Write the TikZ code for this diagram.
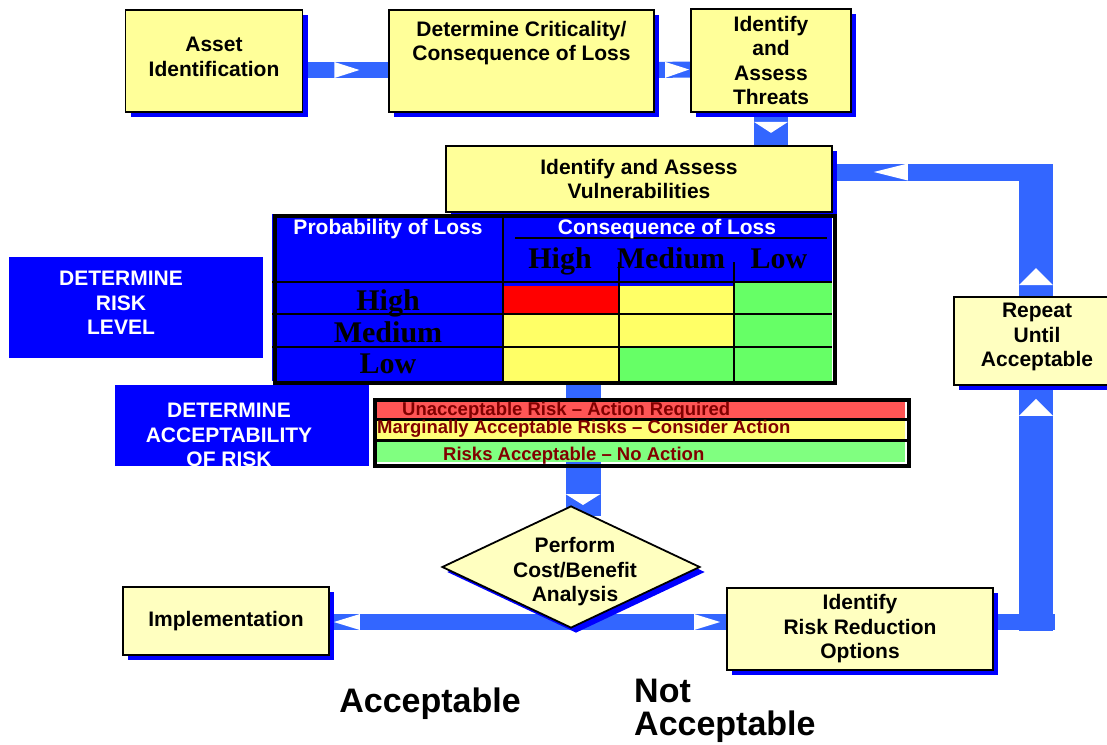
\documentclass[tikz,border=0pt]{standalone}
\usepackage{fontspec}
\setmainfont{Liberation Sans}
\newfontfamily\tabserif{Liberation Serif}
\usetikzlibrary{shapes.geometric, shadows, decorations.markings, backgrounds, calc}

\definecolor{bandblue}{HTML}{3366FF}
\definecolor{shadowblue}{HTML}{0000FF}
\definecolor{tableblue}{HTML}{0000FF}
\definecolor{boxyellow}{HTML}{FFFF99}
\definecolor{boxpale}{HTML}{FFFFC0}
\definecolor{cellred}{HTML}{FF0000}
\definecolor{cellyellow}{HTML}{FFFF66}
\definecolor{cellgreen}{HTML}{66FF66}
\definecolor{legred}{HTML}{FF5555}
\definecolor{legyellow}{HTML}{FFFF77}
\definecolor{leggreen}{HTML}{80FF80}
\definecolor{legtext}{HTML}{800000}

\newcommand{\boxfont}{\fontsize{21}{24.5}\selectfont\bfseries}
\newcommand{\gridfont}{\fontsize{30}{32}\selectfont\tabserif\bfseries}

\tikzset{
  box/.style={draw=black, line width=1.8pt, fill=boxyellow, inner sep=0pt, align=center,
    font=\boxfont, drop shadow={shadow xshift=5pt, shadow yshift=-5pt, fill=shadowblue, opacity=1}},
  palebox/.style={box, fill=boxpale},
  boxtext/.style={inner sep=0pt, align=center, font=\boxfont},
  bluebox/.style={fill=tableblue, inner sep=0pt, anchor=north west},
  bluetext/.style={boxtext, text=white},
  headtext/.style={inner sep=0pt, anchor=base, text=white, font=\fontsize{21}{24}\selectfont\bfseries},
  gridtext/.style={inner sep=0pt, anchor=base, font=\gridfont},
  legendtext/.style={inner sep=0pt, anchor=base west, text=legtext, font=\fontsize{18.5}{20}\selectfont\bfseries},
  bigtext/.style={inner sep=0pt, anchor=base west, font=\fontsize{34}{36}\selectfont\bfseries},
  band/.style={draw=bandblue, line width=#1},
  flow/.style n args={3}{band=#2, postaction={decorate},
    decoration={markings, mark=at position #1 with {\fill[white] (0pt,0pt) -- (-#3,0.5*#2) -- (-#3,-0.5*#2) -- cycle;}}}
}

\begin{document}
\begin{tikzpicture}[x=1pt, y=-1pt]
  \useasboundingbox (0,0) rectangle (1107,744);

  % process boxes
  \node[box, minimum width=177, minimum height=102] (asset) at (214,61) {};
  \node[boxtext] (assettext) at (214,57) {Asset\\Identification};
  \node[box, minimum width=265, minimum height=102] (crit) at (521.5,61) {};
  \node[boxtext] (crittext) at (521.5,43) {Determine Criticality/\\Consequence of Loss};
  \node[box, minimum width=160, minimum height=103] (threat) at (771,60.5) {Identify\\and\\Assess\\Threats};
  \node[box, minimum width=386, minimum height=66] (vuln) at (639,179) {Identify and Assess\\Vulnerabilities};
  \node[palebox, minimum width=166, minimum height=88] (rep) at (1037,341) {};
  \node[boxtext] (reptext) at (1037,337) {Repeat\\Until\\Acceptable};
  \node[palebox, minimum width=206, minimum height=68] (impl) at (226,621) {Implementation};
  \node[palebox, minimum width=266, minimum height=82] (rro) at (860,629) {Identify\\Risk Reduction\\Options};
  \node[palebox, diamond, minimum width=258, minimum height=122] (cba) at (571,567) {};
  \node[boxtext] (cbatext) at (575,572) {Perform\\Cost/Benefit\\Analysis};

  % blue side labels
  \node[bluebox, minimum width=254, minimum height=101] (risklevel) at (9,257) {};
  \node[bluetext] (riskleveltext) at (121,303) {DETERMINE\\RISK\\LEVEL};
  \node[bluebox, minimum width=254, minimum height=81] (accept) at (115,385) {};
  \begin{scope}
    \clip (115,385) rectangle (369,466);
    \node[bluetext] (accepttext) at (229,435) {DETERMINE\\ACCEPTABILITY\\OF RISK};
  \end{scope}

  % risk matrix
  \fill[tableblue] (272,214) rectangle (832,381);
  \foreach \ya/\yb/\ca/\cb/\cc in {282/314/cellred/cellyellow/cellgreen,
      314/347/cellyellow/cellyellow/cellgreen, 347/381/cellyellow/cellgreen/cellgreen} {
    \fill[\ca] (503,\ya) rectangle (619,\yb);
    \fill[\cb] (619,\ya) rectangle (734,\yb);
    \fill[\cc] (734,\ya) rectangle (832,\yb);
  }
  \fill[tableblue] (503,282) rectangle (733,286);
  \draw[line width=2.5pt] (503,214) -- (503,381);
  \draw[line width=2.5pt] (619,262) -- (619,381);
  \draw[line width=2.5pt] (734,262) -- (734,381);
  \foreach \y in {282,314,347}
    \draw[line width=2.5pt] (272,\y) -- (832,\y);
  \draw[line width=2pt] (515,238) -- (827,238);
  \node[draw, line width=4pt, minimum width=560, minimum height=167, inner sep=0pt, anchor=north west] (riskgrid) at (273,214) {};
  \node[headtext] (probhead) at (388,234) {Probability of Loss};
  \node[headtext] (conshead) at (667,234) {Consequence of Loss};
  \node[gridtext] (colhigh) at (560,268) {High};
  \node[gridtext] (colmed) at (671,268) {Medium};
  \node[gridtext] (collow) at (779,268) {Low};
  \node[gridtext] (rowhigh) at (388,310) {High};
  \node[gridtext] (rowmed) at (388,342) {Medium};
  \node[gridtext] (rowlow) at (388,373) {Low};

  % acceptability legend
  \fill[legred] (376,401) rectangle (905,418);
  \fill[legyellow] (376,420) rectangle (905,439);
  \fill[leggreen] (376,441) rectangle (905,462);
  \draw[line width=2.5pt] (373,419.5) -- (907,419.5);
  \draw[line width=2.5pt] (373,440.5) -- (907,440.5);
  \node[draw, line width=4pt, minimum width=534, minimum height=66, inner sep=0pt, anchor=north west] (legend) at (373,398) {};
  \node[legendtext] (unacc) at (402,415) {Unacceptable Risk – Action Required};
  \node[legendtext] (marg) at (377,433) {Marginally Acceptable Risks – Consider Action};
  \node[legendtext] (okrisk) at (443,460) {Risks Acceptable – No Action};

  % outcome labels
  \node[bigtext, anchor=base] (acclabel) at (430,712) {Acceptable};
  \node[bigtext] (notlabel) at (634,702) {Not};
  \node[bigtext] (notacclabel) at (634,735) {Acceptable};

  \coordinate (split) at (575,622);
  \coordinate (loopse) at (1036,622);
  \coordinate (loopne) at (1036,172);

  % flow bands
  \begin{scope}[on background layer]
    \fill[white] (0,0) rectangle (1107,744);
    \draw[flow={56pt}{16pt}{25pt}] ($(asset.east)+(0,9)$) -- ($(crit.west)+(0,9)$);
    \draw[flow={-1pt}{16pt}{24pt}] ($(crit.east)+(0,9)$) -- ($(threat.west)+(0,9)$);
    \draw[flow={20pt}{34pt}{11pt}] (threat.south) -- (threat.south |- vuln.north);
    \draw[flow={120pt}{35pt}{11pt}] ($(riskgrid.south -| cba.north)+(12,0)$) -- ($(cba.north)+(12,11)$);
    \draw[flow={-4pt}{16pt}{26pt}] (split) -- (split -| impl.east);
    \draw[flow={-6pt}{16pt}{26pt}] (split) -- (split -| rro.west);
    \draw[band=16pt] (split -| rro.east) -- ($(loopse)+(19,0)$);
    \draw[flow={-13pt}{34pt}{17pt}] ($(loopse)+(0,9)$) -- (loopse |- rep.south);
    \draw[flow={28pt}{34pt}{17pt}] (loopse |- rep.north) -- ($(loopne)+(0,-8)$);
    \draw[flow={-41pt}{17pt}{34pt}] ($(loopne)+(17,0)$) -- (loopne -| vuln.east);
  \end{scope}
\end{tikzpicture}
\end{document}
